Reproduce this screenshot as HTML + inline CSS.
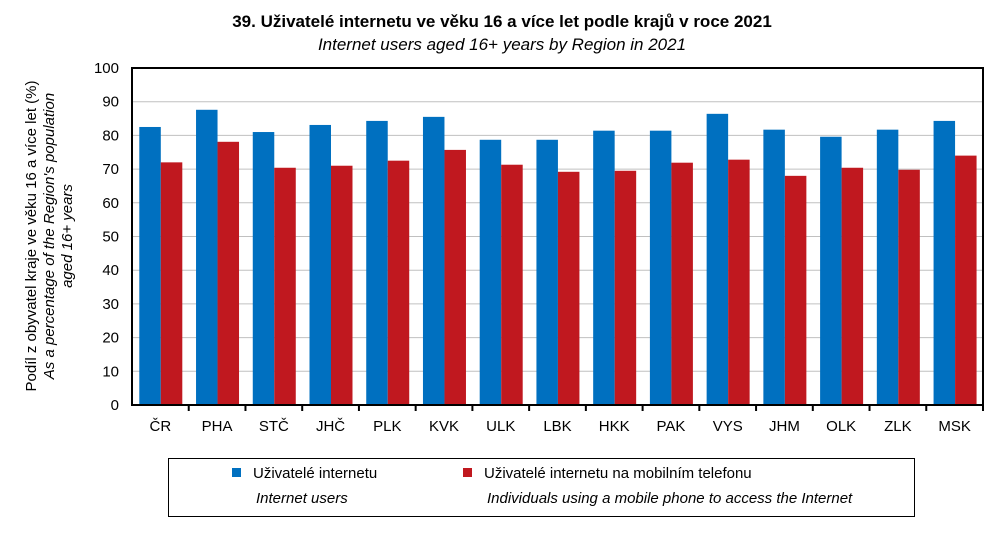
<!DOCTYPE html>
<html><head><meta charset="utf-8"><style>
body{margin:0;background:#fff}
svg{display:block;font-family:"Liberation Sans",Arial,sans-serif}
</style></head><body>
<svg width="1004" height="543" xmlns="http://www.w3.org/2000/svg">
<text x="502" y="27" text-anchor="middle" font-size="17" font-weight="bold">39. Uživatelé internetu ve věku 16 a více let podle krajů v roce 2021</text>
<text x="502" y="50" text-anchor="middle" font-size="17" font-style="italic">Internet users aged 16+ years by Region in 2021</text>
<g id="grid"></g>
<g id="bars"></g>
<rect x="132" y="68" width="851" height="337" fill="none" stroke="#000" stroke-width="2"/>
<g id="tk"></g>
<g font-size="15" text-anchor="end" id="yl"></g>
<g font-size="15" text-anchor="middle" id="xl"></g>
<text transform="translate(36,236) rotate(-90)" text-anchor="middle" font-size="15">Podíl z obyvatel kraje ve věku  16 a více let (%)</text>
<text transform="translate(54,236) rotate(-90)" text-anchor="middle" font-size="15" font-style="italic">As a percentage of the Region's population</text>
<text transform="translate(72,236) rotate(-90)" text-anchor="middle" font-size="15" font-style="italic">aged 16+ years</text>
<rect x="168.5" y="458.5" width="746" height="58" fill="none" stroke="#000"/>
<rect x="232" y="468" width="9" height="9" fill="#0070c0"/>
<text x="253" y="478" font-size="15">Uživatelé internetu</text>
<text x="256" y="503" font-size="15" font-style="italic">Internet users</text>
<rect x="463" y="468" width="9" height="9" fill="#c0181f"/>
<text x="484" y="478" font-size="15">Uživatelé internetu na mobilním telefonu</text>
<text x="487" y="503" font-size="15" font-style="italic">Individuals using a mobile phone to access the Internet</text>
</svg>
<script>
const cats=["ČR","PHA","STČ","JHČ","PLK","KVK","ULK","LBK","HKK","PAK","VYS","JHM","OLK","ZLK","MSK"];
const a=[82.5,87.6,81,83.1,84.3,85.5,78.7,78.7,81.4,81.4,86.4,81.7,79.6,81.7,84.3];
const b=[72,78.1,70.4,71,72.5,75.7,71.3,69.2,69.5,71.9,72.8,68,70.4,69.8,74];
const ns="http://www.w3.org/2000/svg";
const g=document.getElementById("bars"),yl=document.getElementById("yl"),xl=document.getElementById("xl"),gr=document.getElementById("grid"),tk=document.getElementById("tk");
const w=851/15,s=3.37;
function el(t,at,p,tx){const e=document.createElementNS(ns,t);for(const k in at)e.setAttribute(k,at[k]);if(tx)e.textContent=tx;p.appendChild(e);}
cats.forEach((c,i)=>{const x0=132+i*w;
el("rect",{x:x0+7.3,y:405-a[i]*s,width:21.5,height:a[i]*s,fill:"#0070c0"},g);
el("rect",{x:x0+28.8,y:405-b[i]*s,width:21.5,height:b[i]*s,fill:"#c0181f"},g);
el("text",{x:x0+w/2,y:431},xl,c);
if(i>0)el("line",{x1:x0,x2:x0,y1:405,y2:411,stroke:"#000","stroke-width":2},tk);});
el("line",{x1:983,x2:983,y1:405,y2:411,stroke:"#000","stroke-width":2},tk);
for(let v=0;v<=100;v+=10){const y=405-v*s;el("text",{x:119,y:y+5},yl,String(v));
if(v>0&&v<100)el("line",{x1:132,x2:983,y1:y,y2:y,stroke:"#c0c0c0"},gr);}
</script>
</body></html>
